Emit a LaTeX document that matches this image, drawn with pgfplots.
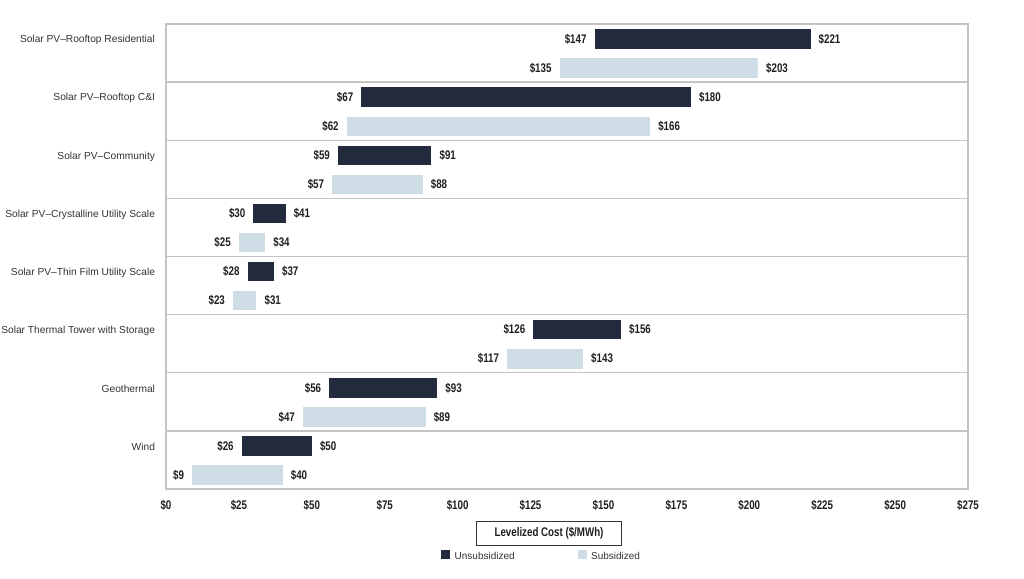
\documentclass[border=0pt]{standalone}
\usepackage{fontspec}
\setmainfont{Liberation Sans}
\newfontfamily\narrowfont[FakeStretch=0.78]{Liberation Sans}
\usepackage{pgfplots}
\usepackage{pgfplotstable}
\pgfplotsset{compat=1.18}
\definecolor{unsubc}{HTML}{232A3D}
\definecolor{subc}{HTML}{CEDCE6}
\definecolor{framec}{HTML}{C4C4C4}
\definecolor{txt}{HTML}{1E1E1E}
\definecolor{lbl}{HTML}{333333}

\pgfplotstableread{
y lo hi
0.26 147 221
1.26 67 180
2.26 59 91
3.26 30 41
4.26 28 37
5.26 126 156
6.26 56 93
7.26 26 50
}\unsub
\pgfplotstableread{
y lo hi
0.76 135 203
1.76 62 166
2.76 57 88
3.76 25 34
4.76 23 31
5.76 117 143
6.76 47 89
7.76 9 40
}\sub

\newcommand{\valfont}{\narrowfont\bfseries\fontsize{12.5}{14}\selectfont}

\begin{document}
\begin{tikzpicture}
\begin{axis}[name=ax, scale only axis, width=802pt, height=465pt,
  xmin=0, xmax=275, ymin=0, ymax=8, y dir=reverse, clip=false,
  /pgf/number format/assume math mode=true,
  axis line style={framec, line width=1.3pt},
  major tick length=0pt,
  xtick={0,25,50,75,100,125,150,175,200,225,250,275},
  xticklabel={\$\pgfmathprintnumber{\tick}},
  xticklabel style={font=\valfont, text=txt, yshift=-8pt},
  ytick={0.26,1.26,2.26,3.26,4.26,5.26,6.26,7.26},
  yticklabels={Solar PV--Rooftop Residential, Solar PV--Rooftop C\&I, Solar PV--Community, Solar PV--Crystalline Utility Scale, Solar PV--Thin Film Utility Scale, Solar Thermal Tower with Storage, Geothermal, Wind},
  yticklabel style={font=\fontsize{10.2}{12}\selectfont, text=lbl, xshift=-7.5pt, yshift=-1pt},
  extra y ticks={1,2,3,4,5,6,7}, extra y tick labels={},
  extra y tick style={grid=major},
  major grid style={framec, line width=1.3pt},
  xlabel={Levelized Cost (\$/MWh)},
  xlabel style={at={(axis description cs:0.4776,-0.0946)}, anchor=center, draw=black!80, line width=0.9pt, minimum width=145pt, minimum height=24pt, inner sep=0pt, font=\narrowfont\bfseries\fontsize{12.5}{14}\selectfont, text=txt},
  legend columns=2,
  legend style={draw=none, fill=none, at={(axis description cs:0.343,-0.146)}, anchor=west, font=\fontsize{10}{12}\selectfont, text=lbl, inner sep=0pt,
    /tikz/every odd column/.append style={column sep=3pt},
    /tikz/every even column/.append style={column sep=61pt}},
]
\addlegendimage{legend image code/.code={\fill[unsubc] (0pt,-1.5pt) rectangle (8pt,6.5pt);}}
\addlegendentry{Unsubsidized}
\addlegendimage{legend image code/.code={\fill[subc] (0pt,-1.5pt) rectangle (8pt,6.5pt);}}
\addlegendentry{Subsidized}

\addplot[draw=none, mark=none, forget plot,
  error bars/.cd, x dir=both, x explicit, error mark=none,
  error bar style={draw=subc, line width=19.5pt}]
  table[x expr=(\thisrow{lo}+\thisrow{hi})/2, y=y, x error expr=(\thisrow{hi}-\thisrow{lo})/2] {\sub};
\addplot[draw=none, mark=none, forget plot,
  error bars/.cd, x dir=both, x explicit, error mark=none,
  error bar style={draw=unsubc, line width=19.5pt}]
  table[x expr=(\thisrow{lo}+\thisrow{hi})/2, y=y, x error expr=(\thisrow{hi}-\thisrow{lo})/2] {\unsub};

\addplot[only marks, mark=none, forget plot, point meta=x,
  nodes near coords={\$\pgfmathprintnumber{\pgfplotspointmeta}},
  nodes near coords style={anchor=east, inner sep=0pt, xshift=-8pt, font=\valfont, text=txt}]
  table[x=lo, y=y] {\unsub};
\addplot[only marks, mark=none, forget plot, point meta=x,
  nodes near coords={\$\pgfmathprintnumber{\pgfplotspointmeta}},
  nodes near coords style={anchor=west, inner sep=0pt, xshift=8pt, font=\valfont, text=txt}]
  table[x=hi, y=y] {\unsub};
\addplot[only marks, mark=none, forget plot, point meta=x,
  nodes near coords={\$\pgfmathprintnumber{\pgfplotspointmeta}},
  nodes near coords style={anchor=east, inner sep=0pt, xshift=-8pt, font=\valfont, text=txt}]
  table[x=lo, y=y] {\sub};
\addplot[only marks, mark=none, forget plot, point meta=x,
  nodes near coords={\$\pgfmathprintnumber{\pgfplotspointmeta}},
  nodes near coords style={anchor=west, inner sep=0pt, xshift=8pt, font=\valfont, text=txt}]
  table[x=hi, y=y] {\sub};
\end{axis}
\path (ax.south west) ++(-166pt,-89pt) coordinate (bl);
\pgfresetboundingbox
\useasboundingbox (bl) rectangle ++(1024pt,578pt);
\end{tikzpicture}
\end{document}
